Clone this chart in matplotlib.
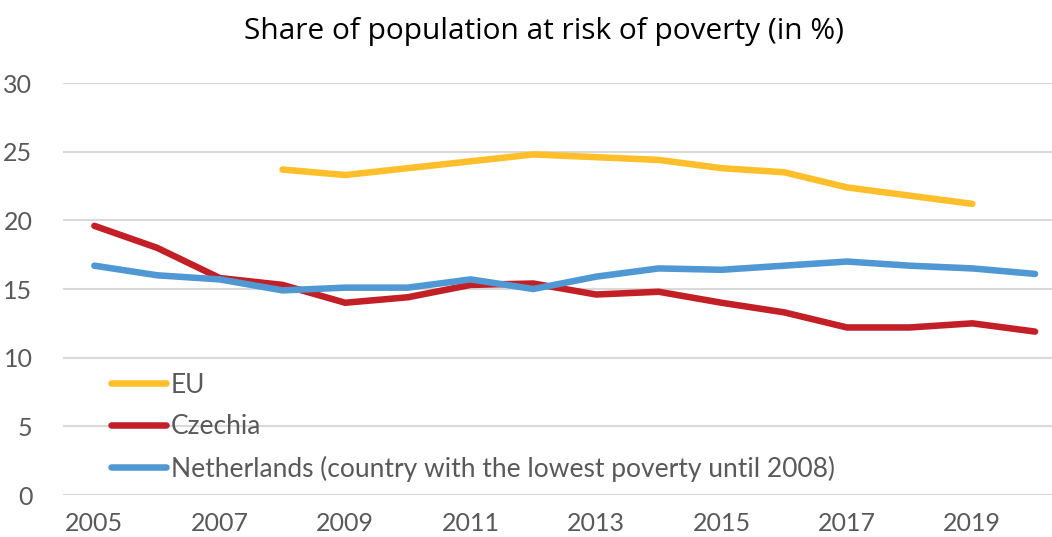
import matplotlib
matplotlib.use("Agg")
import matplotlib.pyplot as plt
import numpy as np

years = list(range(2005, 2021))
eu_years = list(range(2008, 2020))
eu = [23.7, 23.3, 23.8, 24.3, 24.8, 24.6, 24.4, 23.8, 23.5, 22.4, 21.8, 21.2]
czechia = [19.6, 18.0, 15.8, 15.3, 14.0, 14.4, 15.3, 15.4, 14.6, 14.8, 14.0, 13.3,
           12.2, 12.2, 12.5, 11.9]
netherlands = [16.7, 16.0, 15.7, 14.9, 15.1, 15.1, 15.7, 15.0, 15.9, 16.5, 16.4, 16.7,
               17.0, 16.7, 16.5, 16.1]
xticks = list(range(2005, 2020, 2))
yticks = [0, 5, 10, 15, 20, 25, 30]

plt.rcParams['font.family'] = ['Lato', 'DejaVu Sans']

fig = plt.figure(figsize=(10.52, 5.37), dpi=100)
ax = fig.add_axes([0.0599, 0.0782, 0.9401, 0.7672])

ax.plot(eu_years, eu, color='#FFBF2B', lw=4.7, solid_capstyle='round', label='EU')
ax.plot(years, czechia, color='#C21F26', lw=4.7, solid_capstyle='round', label='Czechia')
ax.plot(years, netherlands, color='#4F98D3', lw=4.7, solid_capstyle='round',
        label='Netherlands (country with the lowest poverty until 2008)')

ax.set_xlim(2004.5, 2020.27)
ax.set_ylim(0, 30)
ax.set_xticks(xticks)
ax.set_yticks(yticks)
ax.grid(axis='y', color='#D9D9D9', lw=1.5)
ax.set_axisbelow(True)
for s in ax.spines.values():
    s.set_visible(False)
ax.tick_params(length=0, labelsize=18, labelcolor='#595959')
ax.tick_params(axis='y', pad=22)
ax.tick_params(axis='x', pad=12)

leg = ax.legend(loc='lower left', bbox_to_anchor=(0.025, -0.025), frameon=False,
                fontsize=19, handlelength=2.05, handletextpad=0.2, labelspacing=0.62)
for t in leg.get_texts():
    t.set_color('#595959')

fig.suptitle('Share of population at risk of poverty (in %)', fontsize=21.5,
             y=0.942, x=0.517, va='center', family=['Open Sans', 'DejaVu Sans'])

fig.savefig('out.png', dpi=100)
